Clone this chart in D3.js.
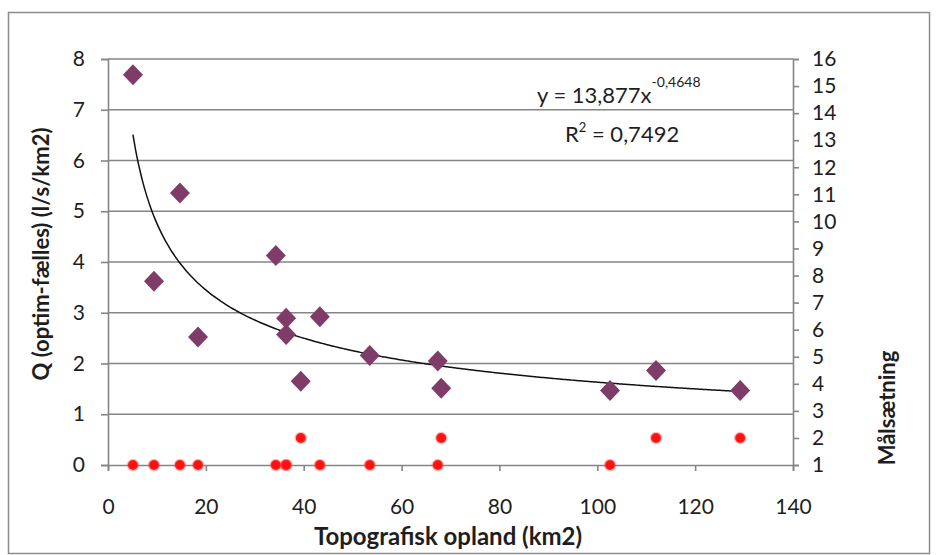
<!DOCTYPE html>
<html>
<head>
<meta charset="utf-8">
<script src="https://cdn.jsdelivr.net/npm/d3@7"></script>
<style>
  html, body { margin: 0; padding: 0; background: #fff; }
  svg { display: block; font-family: Lato, "Open Sans", sans-serif; }
</style>
</head>
<body>
<svg id="chart" width="936" height="555"></svg>
<script>
// Catchment area (km2) per station
const opland = [5.1, 9.4, 14.7, 18.4, 34.3, 36.4, 36.4, 39.4, 43.3, 53.5, 67.4, 68.1, 102.6, 112, 129.2];
// Q (optim-fælles), l/s/km2
const qValues = [7.69, 3.62, 5.36, 2.52, 4.13, 2.89, 2.57, 1.65, 2.92, 2.16, 2.05, 1.51, 1.47, 1.86, 1.47];
// Målsætning (secondary axis)
const maalValues = [1, 1, 1, 1, 1, 1, 1, 2, 1, 1, 1, 2, 1, 2, 2];
// Power trendline coefficients
const trendA = 13.877;
const trendB = -0.4648;
const trendR2 = "0,7492";

const xTicks = [0, 20, 40, 60, 80, 100, 120, 140];
const yTicks = [0, 1, 2, 3, 4, 5, 6, 7, 8];
const y2Ticks = d3.range(1, 17);

const svg = d3.select("#chart");
const plotLeft = 108, plotRight = 793, plotTop = 59, plotBottom = 465;

const x = d3.scaleLinear().domain([0, 140]).range([plotLeft, plotRight]);
const y = d3.scaleLinear().domain([0, 8]).range([plotBottom, plotTop]);
const y2 = d3.scaleLinear().domain([1, 16]).range([plotBottom, plotTop]);

const gray = "#858585";
const ink = "#1e1e1e";

// chart frame
svg.append("rect")
  .attr("x", 8.5).attr("y", 12.5).attr("width", 921).attr("height", 541)
  .attr("fill", "#fff").attr("stroke", "#8c8c8c").attr("stroke-width", 1.5);

// horizontal gridlines
svg.append("g").selectAll("line").data(yTicks.filter(d => d > 0)).join("line")
  .attr("x1", plotLeft).attr("x2", plotRight)
  .attr("y1", d => y(d)).attr("y2", d => y(d))
  .attr("stroke", gray).attr("stroke-width", 1.6);

// left axis
const yAxis = svg.append("g").attr("transform", `translate(${plotLeft},0)`)
  .call(d3.axisLeft(y).tickValues(yTicks).tickSize(7).tickPadding(16).tickFormat(d3.format("d")));
// bottom axis
const xAxis = svg.append("g").attr("transform", `translate(0,${plotBottom})`)
  .call(d3.axisBottom(x).tickValues(xTicks).tickSize(6).tickPadding(28).tickFormat(d3.format("d")));
// right axis
const y2Axis = svg.append("g").attr("transform", `translate(${plotRight},0)`)
  .call(d3.axisRight(y2).tickValues(y2Ticks).tickSize(6).tickPadding(13).tickFormat(d3.format("d")));

[yAxis, xAxis, y2Axis].forEach(g => {
  g.select(".domain").attr("stroke", gray).attr("stroke-width", 1.6);
  g.selectAll(".tick line").attr("stroke", gray).attr("stroke-width", 1.6);
  g.selectAll(".tick text").attr("fill", ink).attr("font-size", 21)
    .attr("font-family", "Lato, 'Open Sans', sans-serif");
});

// trendline
const xs = d3.range(d3.min(opland), d3.max(opland) + 0.01, 0.5);
const trendPts = xs.map(v => [v, trendA * Math.pow(v, trendB)]);
svg.append("path")
  .datum(trendPts)
  .attr("fill", "none").attr("stroke", "#111").attr("stroke-width", 1.5)
  .attr("d", d3.line().x(d => x(d[0])).y(d => y(d[1])).curve(d3.curveMonotoneX));

// Målsætning points (secondary axis)
svg.append("g").selectAll("circle").data(opland.map((v, i) => [v, maalValues[i]])).join("circle")
  .attr("cx", d => x(d[0])).attr("cy", d => y2(d[1]))
  .attr("r", 5).attr("fill", "#ff1010")
  .attr("stroke", "rgba(255,60,60,0.35)").attr("stroke-width", 2.5);

// Q points (diamonds)
const dw = 10, dh = 10.5;
const diamondPath = `M0,${-dh}L${dw},0L0,${dh}L${-dw},0Z`;
svg.append("g").selectAll("path").data(opland.map((v, i) => [v, qValues[i]])).join("path")
  .attr("transform", d => `translate(${x(d[0])},${y(d[1])})`)
  .attr("d", diamondPath)
  .attr("fill", "#803c68");

// trendline equation
const eq = svg.append("text")
  .attr("x", 537).attr("y", 103)
  .attr("font-size", 22).attr("fill", ink);
eq.append("tspan").text(`y = ${String(trendA).replace(".", ",")}x`);
eq.append("tspan").attr("dy", -16).attr("font-size", 14).text(String(trendB).replace(".", ","));

const r2 = svg.append("text")
  .attr("x", 565).attr("y", 142)
  .attr("font-size", 22).attr("fill", ink);
r2.append("tspan").text("R");
r2.append("tspan").attr("dy", -10).attr("font-size", 13).text("2");
r2.append("tspan").attr("dy", 10).text(` = ${trendR2}`);

// axis titles
svg.append("text")
  .attr("x", 448).attr("y", 545)
  .attr("text-anchor", "middle").attr("font-size", 24).attr("font-weight", "bold")
  .attr("fill", ink).text("Topografisk opland (km2)");

svg.append("text")
  .attr("transform", `translate(49,254) rotate(-90)`)
  .attr("text-anchor", "middle").attr("font-size", 22).attr("font-weight", "bold")
  .attr("fill", ink).text("Q (optim-fælles) (l/s/km2)");

svg.append("text")
  .attr("transform", `translate(895,408) rotate(-90)`)
  .attr("text-anchor", "middle").attr("font-size", 22).attr("font-weight", "bold")
  .attr("fill", ink).text("Målsætning");
</script>
</body>
</html>
